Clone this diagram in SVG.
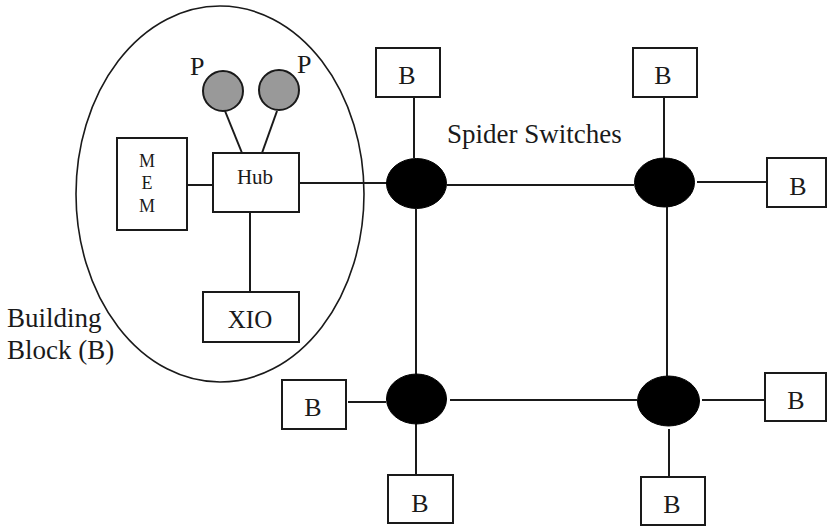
<svg xmlns="http://www.w3.org/2000/svg" width="828" height="526" viewBox="0 0 828 526">
<style>
.box{fill:#fff;stroke:#1a1a1a;stroke-width:2}
.ln{stroke:#1a1a1a;stroke-width:2;fill:none}
.sw{fill:#000;stroke:#000;stroke-width:1}
.proc{fill:#999;stroke:#1a1a1a;stroke-width:2}
.t{font-family:"Liberation Serif","Times New Roman",serif;fill:#1a1a1a}
.b{font-size:26px;text-anchor:middle}
</style>
<rect width="828" height="526" fill="#fff"/>
<g id="building-block">
<ellipse cx="220" cy="194" rx="144" ry="188" fill="none" stroke="#1a1a1a" stroke-width="1.6"/>
</g>
<g id="connectors">
<line class="ln" x1="223" y1="106" x2="242" y2="153"/>
<line class="ln" x1="277" y1="111" x2="262" y2="153"/>
<line class="ln" x1="187" y1="185" x2="213" y2="185"/>
<line class="ln" x1="250" y1="212" x2="250" y2="292"/>
<line class="ln" x1="299" y1="183" x2="388" y2="183"/>
<line class="ln" x1="414" y1="91" x2="414" y2="158"/>
<line class="ln" x1="664" y1="91" x2="664" y2="158"/>
<line class="ln" x1="447" y1="185" x2="634" y2="185"/>
<line class="ln" x1="697" y1="182" x2="767" y2="182"/>
<line class="ln" x1="416" y1="209" x2="416" y2="374"/>
<line class="ln" x1="667" y1="207" x2="667" y2="376"/>
<line class="ln" x1="348" y1="402" x2="386" y2="402"/>
<line class="ln" x1="450" y1="400" x2="637" y2="400"/>
<line class="ln" x1="702" y1="400" x2="765" y2="400"/>
<line class="ln" x1="416" y1="424" x2="416" y2="475"/>
<line class="ln" x1="669" y1="429" x2="669" y2="477"/>
</g>
<g id="p1">
<circle class="proc" cx="223" cy="91" r="20"/>
<text class="t" x="190" y="75" font-size="26">P</text>
</g>
<g id="p2">
<circle class="proc" cx="279" cy="90" r="20"/>
<text class="t" x="297" y="73" font-size="26">P</text>
</g>
<g id="mem">
<rect class="box" x="117" y="138" width="70" height="92"/>
<text class="t" x="147" y="167" font-size="18" text-anchor="middle">M</text>
<text class="t" x="147" y="189" font-size="18" text-anchor="middle">E</text>
<text class="t" x="147" y="212" font-size="18" text-anchor="middle">M</text>
</g>
<g id="hub">
<rect class="box" x="213" y="153" width="86" height="59"/>
<text class="t" x="255" y="184" font-size="21" text-anchor="middle">Hub</text>
</g>
<g id="xio">
<rect class="box" x="203" y="292" width="96" height="50"/>
<text class="t" x="250" y="328" font-size="25" text-anchor="middle">XIO</text>
</g>
<g id="label-bb">
<text class="t" x="7" y="327" font-size="27">Building</text>
<text class="t" x="7" y="359" font-size="27">Block (B)</text>
</g>
<g id="label-spider">
<text class="t" x="447" y="143" font-size="27">Spider Switches</text>
</g>
<g id="sw1"><ellipse class="sw" cx="416.5" cy="183.5" rx="30" ry="25"/></g>
<g id="sw2"><ellipse class="sw" cx="664.5" cy="182.5" rx="30" ry="24.5"/></g>
<g id="sw3"><ellipse class="sw" cx="416.5" cy="399" rx="30" ry="25"/></g>
<g id="sw4"><ellipse class="sw" cx="668.5" cy="401" rx="31" ry="25"/></g>
<g id="b1"><rect class="box" x="376" y="48" width="64" height="49"/><text class="t b" x="407" y="84">B</text></g>
<g id="b2"><rect class="box" x="633" y="48" width="64" height="49"/><text class="t b" x="663" y="84">B</text></g>
<g id="b3"><rect class="box" x="767" y="158" width="59" height="49"/><text class="t b" x="798" y="195">B</text></g>
<g id="b4"><rect class="box" x="282" y="380" width="64" height="49"/><text class="t b" x="313" y="416">B</text></g>
<g id="b5"><rect class="box" x="388" y="475" width="65" height="48"/><text class="t b" x="420" y="512">B</text></g>
<g id="b6"><rect class="box" x="765" y="373" width="61" height="48"/><text class="t b" x="796" y="409">B</text></g>
<g id="b7"><rect class="box" x="641" y="477" width="64" height="48"/><text class="t b" x="672" y="513">B</text></g>
</svg>
